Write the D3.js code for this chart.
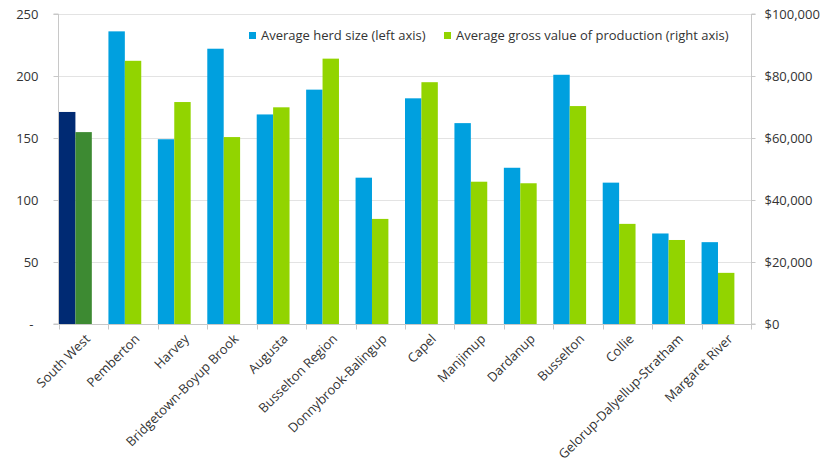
<!DOCTYPE html>
<html>
<head>
<meta charset="utf-8">
<script src="https://cdn.jsdelivr.net/npm/d3@7"></script>
<style>
  html, body { margin: 0; padding: 0; background: #fff; }
  svg text { font-family: "Open Sans", "Liberation Sans", sans-serif; fill: #333333; }
</style>
</head>
<body>
<svg id="chart" width="831" height="464"></svg>
<script>
// Regions of the South West, with average herd size and average gross value of production
const regions = ["South West", "Pemberton", "Harvey", "Bridgetown-Boyup Brook", "Augusta",
  "Busselton Region", "Donnybrook-Balingup", "Capel", "Manjimup", "Dardanup", "Busselton",
  "Collie", "Gelorup-Dalyellup-Stratham", "Margaret River"];
const herdSize = [171, 236, 149, 222, 169, 189, 118, 182, 162, 126, 201, 114, 73, 66];
const grossValue = [61900, 84900, 71600, 60300, 69900, 85600, 33900, 78000, 45900, 45400, 70300, 32300, 27100, 16500];
const leftTicks = [0, 50, 100, 150, 200, 250];
const rightTicks = [0, 20000, 40000, 60000, 80000, 100000];
const seriesNames = ["Average herd size (left axis)", "Average gross value of production (right axis)"];

const svg = d3.select("#chart");
const plot = { left: 59, right: 751, top: 14, bottom: 324 };

const x = d3.scaleBand().domain(regions).range([plot.left, plot.right]).paddingInner(0).paddingOuter(0);
const yL = d3.scaleLinear().domain([0, 250]).range([plot.bottom, plot.top]);
const yR = d3.scaleLinear().domain([0, 100000]).range([plot.bottom, plot.top]);
const barW = x.bandwidth() * 0.332;

const colors = {
  herd: "#00A0DF", gross: "#92D400",
  herdTotal: "#002A73", grossTotal: "#3D8A32"
};

// Horizontal gridlines
svg.append("g").selectAll("line").data(leftTicks.filter(d => d > 0)).join("line")
  .attr("x1", plot.left).attr("x2", plot.right)
  .attr("y1", d => Math.round(yL(d)) + 0.5).attr("y2", d => Math.round(yL(d)) + 0.5)
  .attr("stroke", "#e3e3e3").attr("stroke-width", 1);

// Bars: herd size on the left scale, gross value on the right scale
const bars = svg.append("g");
bars.selectAll("rect.herd").data(regions).join("rect").attr("class", "herd")
  .attr("x", d => x(d)).attr("width", barW)
  .attr("y", (d, i) => yL(herdSize[i])).attr("height", (d, i) => plot.bottom - yL(herdSize[i]))
  .attr("fill", (d, i) => i === 0 ? colors.herdTotal : colors.herd);
bars.selectAll("rect.gross").data(regions).join("rect").attr("class", "gross")
  .attr("x", d => x(d) + barW).attr("width", barW)
  .attr("y", (d, i) => yR(grossValue[i])).attr("height", (d, i) => plot.bottom - yR(grossValue[i]))
  .attr("fill", (d, i) => i === 0 ? colors.grossTotal : colors.gross);

// Left axis
const leftAxis = svg.append("g").attr("transform", `translate(${plot.left - 0.5},0)`)
  .call(d3.axisLeft(yL).tickValues(leftTicks).tickSize(5).tickPadding(20)
    .tickFormat(d => d === 0 ? "-" : d3.format("d")(d)));
leftAxis.selectAll("text").attr("font-size", 13).attr("dy", "0.35em")
  .attr("x", d => d === 0 ? -25 : -20);

// Right axis
const rightAxis = svg.append("g").attr("transform", `translate(${plot.right + 0.5},0)`)
  .call(d3.axisRight(yR).tickValues(rightTicks).tickSize(4).tickPadding(9)
    .tickFormat(d => "$" + d3.format(",")(d)));
rightAxis.selectAll("text").attr("font-size", 13).attr("dy", "0.35em");

// Bottom axis: ticks at category boundaries, slanted category names
const bottom = svg.append("g").attr("transform", `translate(0,${plot.bottom + 0.5})`);
bottom.append("line").attr("x1", plot.left).attr("x2", plot.right + 4).attr("stroke", "#c8c8c8");
bottom.selectAll("line.tk").data(regions.concat(["__end"])).join("line").attr("class", "tk")
  .attr("x1", (d, i) => Math.round(plot.left + i * x.bandwidth()) + 0.5)
  .attr("x2", (d, i) => Math.round(plot.left + i * x.bandwidth()) + 0.5)
  .attr("y1", 0).attr("y2", 5).attr("stroke", "#c8c8c8");
bottom.selectAll("text").data(regions).join("text")
  .attr("transform", d => `translate(${x(d) + x.bandwidth() / 2 + 4},${12}) rotate(-45)`)
  .attr("text-anchor", "end").attr("font-size", 13).attr("dy", "0.35em")
  .text(d => d);

[leftAxis, rightAxis].forEach(a => {
  a.select(".domain").attr("stroke", "#c8c8c8");
  a.selectAll(".tick line").attr("stroke", "#c8c8c8");
});
leftAxis.select(".domain").attr("d", `M-5,${plot.top}H0V${plot.bottom}H-5`);
rightAxis.select(".domain").attr("d", `M4,${plot.top}H0V${plot.bottom}H4`);

// Legend
const legendItems = [
  { name: seriesNames[0], color: colors.herd, x: 249 },
  { name: seriesNames[1], color: colors.gross, x: 444 }
];
const legend = svg.append("g");
legend.selectAll("rect").data(legendItems).join("rect")
  .attr("x", d => d.x).attr("y", 32).attr("width", 7).attr("height", 7)
  .attr("fill", d => d.color);
legend.selectAll("text").data(legendItems).join("text")
  .attr("x", d => d.x + 12).attr("y", 40).attr("font-size", 13)
  .text(d => d.name);
</script>
</body>
</html>
